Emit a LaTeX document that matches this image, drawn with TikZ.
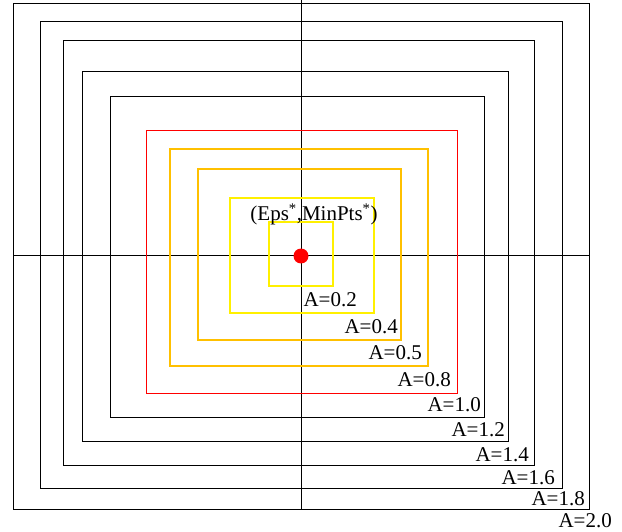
\documentclass[tikz,border=0pt]{standalone}
\usepackage{fontspec}
\setmainfont{Liberation Serif}
\definecolor{amber}{RGB}{255,192,0}
\definecolor{lemon}{RGB}{255,240,0}
\tikzset{
  box/.style={line width=1pt},
  alabel/.style={anchor=base east,inner sep=0pt,font=\fontsize{21}{24}\selectfont}
}
\begin{document}
\begin{tikzpicture}[x=1pt,y=-1pt]
 \useasboundingbox (0,0) rectangle (622,532);
 % axes
 \coordinate (xl) at (13,256);
 \coordinate (xr) at (589,256);
 \coordinate (yt) at (301,0);
 \coordinate (yb) at (301,509);
 \draw[line width=1pt] (xl) -- (xr);
 \draw[line width=1pt] (yt) -- (yb);
 % squares, inner to outer
 \foreach \l/\t/\r/\b/\col/\w/\lx/\ly/\v in {
   269/222/333/286/lemon/1.3/357/306/0.2,
   230/198/374/313/lemon/1.3/398/334/0.4,
   198/169/401/340/amber/1.2/422/359/0.5,
   170/149/428/366/amber/1.2/451/386/0.8,
   146/131/457/393/red/1/481/411/1.0,
   110/97/484/417/black/1/505/436/1.2,
   82/72/508/441/black/1/529/461/1.4,
   63/41/534/465/black/1/555/484/1.6,
   40/22/562/488/black/1/585/505/1.8,
   13/4/589/509/black/1/612/527/2.0} {
  \draw[box,draw=\col,line width=\w pt] (\l,\t) rectangle (\r,\b);
  \node[alabel] (a\v) at (\lx,\ly) {A=\v};
 }
 \node[circle,fill=red,minimum size=15pt,inner sep=0pt] (opt) at (301,256) {};
 \node[font=\fontsize{21}{24}\selectfont,inner sep=0pt,anchor=base] (eps)
   at (314,221) {(Eps\textsuperscript{*},MinPts\textsuperscript{*})};
\end{tikzpicture}
\end{document}
